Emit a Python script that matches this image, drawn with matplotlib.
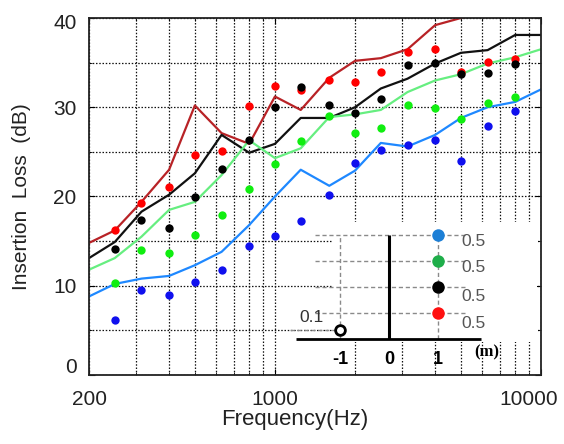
import matplotlib
matplotlib.use("Agg")
import matplotlib.pyplot as plt
import matplotlib.transforms as mtrans
from matplotlib.patches import Rectangle
from matplotlib.ticker import FixedLocator, NullFormatter

plt.rcParams['font.family'] = ['Liberation Sans', 'DejaVu Sans']

# --- DATA ---
FREQ_LINE = [200, 250, 315, 400, 500, 630, 800, 1000, 1250, 1600,
             2000, 2500, 3150, 4000, 5000, 6300, 8000, 10000]
LINE_RED = [14.8, 16.2, 19.4, 23.0, 30.2, 27.1, 25.9, 31.2, 29.7, 33.3,
            35.2, 35.5, 36.5, 39.2, 40.0, 40.8, 41.2, 41.5]
LINE_BLACK = [13.1, 14.9, 18.3, 20.2, 22.6, 26.9, 24.9, 25.9, 28.8, 28.8,
              30.0, 32.1, 33.2, 34.9, 36.1, 36.4, 38.1, 38.1]
LINE_GREEN = [11.8, 13.1, 15.5, 18.5, 19.4, 22.4, 26.3, 24.3, 25.4, 28.9,
              29.2, 29.7, 31.7, 33.0, 33.7, 34.9, 35.6, 36.5]
LINE_BLUE = [8.8, 10.2, 10.8, 11.1, 12.3, 13.8, 16.8, 20.0, 23.0, 21.2,
             22.9, 26.0, 25.6, 26.9, 28.8, 30.0, 30.6, 32.0]

FREQ_PTS = [250, 315, 400, 500, 630, 800, 1000, 1250, 1600, 2000,
            2500, 3150, 4000, 5000, 6300, 8000]
PTS_RED = [16.2, 19.3, 21.1, 24.6, 25.1, 30.1, 32.4, 31.9, 33.0, 32.8,
           34.0, 36.2, 36.5, 34.0, 35.1, 35.4]
PTS_BLACK = [14.1, 17.4, 16.5, 19.9, 23.1, 26.3, 30.0, 32.3, 30.3, 29.3,
             30.9, 34.7, 35.0, 33.7, 33.8, 34.8]
PTS_GREEN = [10.3, 14.0, 13.7, 15.7, 17.9, 20.8, 23.6, 26.2, 29.0, 27.1,
             27.7, 30.3, 29.9, 28.7, 30.5, 31.1]
PTS_BLUE = [6.2, 9.5, 9.0, 10.4, 11.8, 14.4, 15.6, 17.2, 20.2, 23.8,
            25.2, 25.8, 26.3, 24.0, 27.9, 29.6]

X_TICKS = [200, 1000, 10000]
X_LABELS = ['200', '1000', '10000']
Y_TICKS = [0, 10, 20, 30, 40]

# inset sketch: barrier geometry in metres
SRC_X, SRC_H = -1, 0.18
RCV_X = 1
RCV_H = [2.0, 1.5, 1.0, 0.5]
RCV_COLORS = ['#1c7fd6', '#1fae4a', '#000000', '#ff1010']
BARRIER_H = 2.0
SPACING_LABELS = ['0.5', '0.5', '0.5', '0.5']
SPACING_Y = [1.87, 1.37, 0.81, 0.29]

fig = plt.figure(figsize=(5.64, 4.44), dpi=100)
ax = fig.add_axes([89 / 564, 1 - 375 / 444, (541 - 89) / 564, (375 - 18) / 444])

# measured curves and points
ax.plot(FREQ_LINE, LINE_RED, color='#b82226', lw=1.6, zorder=2)
ax.plot(FREQ_LINE, LINE_BLACK, color='#111111', lw=1.6, zorder=2)
ax.plot(FREQ_LINE, LINE_GREEN, color='#66ee80', lw=1.6, zorder=2)
ax.plot(FREQ_LINE, LINE_BLUE, color='#1e88ff', lw=1.6, zorder=2)

for vals, c in [(PTS_RED, '#ff0000'), (PTS_BLACK, '#000000'),
                (PTS_GREEN, '#10ee10'), (PTS_BLUE, '#1010ee')]:
    ax.plot(FREQ_PTS, vals, 'o', color=c, ms=6, mec='none', zorder=3)

ax.set_xscale('log')
ax.set_xlim(200, 10000)
ax.set_ylim(0, 40)
ax.xaxis.set_major_locator(FixedLocator(X_TICKS))
ax.set_xticklabels(X_LABELS)
ax.xaxis.set_minor_locator(FixedLocator(
    [m * d for d in (100, 1000) for m in range(2, 10)]))
ax.xaxis.set_minor_formatter(NullFormatter())
ax.set_yticks(Y_TICKS)
ax.set_yticks([5, 15, 25, 35], minor=True)

ax.set_axisbelow(True)
ax.grid(True, which='both', color='#111111', linestyle=(0, (1.2, 1.4)), lw=0.9)
ax.tick_params(which='both', direction='in', top=True, right=True,
               labelsize=15, labelcolor='#222222')
ax.tick_params(axis='x', which='major', pad=11, length=4)
ax.tick_params(axis='y', which='major', pad=9, length=4)
for s in ax.spines.values():
    s.set_linewidth(1.3)
    s.set_color('#222222')

# nudge the edge tick labels inwards like the reference
def shift(label, dx, dy):
    label.set_transform(label.get_transform() +
                        mtrans.ScaledTranslation(dx / 100, dy / 100, fig.dpi_scale_trans))

shift(ax.xaxis.get_major_ticks()[-1].label1, -12, 0)
shift(ax.yaxis.get_major_ticks()[0].label1, 0, 10)
shift(ax.yaxis.get_major_ticks()[-1].label1, 0, -4)

ax.set_xlabel('Frequency(Hz)', fontsize=16, color='#222222')
ax.set_ylabel('Insertion  Loss  (dB)', fontsize=15, color='#222222')
ax.xaxis.set_label_coords(0.456, -0.095)
ax.yaxis.set_label_coords(-0.128, 0.50)

# white backing for the inset sketch
ax.add_patch(Rectangle((0.540, 0.092), 0.451, 0.336, transform=ax.transAxes,
                       facecolor='white', edgecolor='none', zorder=1))

# --- inset: source / barrier / receivers ---
ins = fig.add_axes([290 / 564, 1 - 376 / 444, (541 - 290) / 564, (376 - 222) / 444])
ins.set_xlim(-2.02, 3.10)
ins.set_ylim(-0.71, 2.25)
ins.axis('off')
ins.patch.set_alpha(0)

dash = dict(color='#8a8a8a', lw=1.0, linestyle=(0, (3, 2)))
for h in RCV_H:
    ins.plot([-1.51, 1.55], [h, h], **dash)
ins.plot([-2.02, SRC_X], [SRC_H, SRC_H], **dash)
ins.plot([SRC_X, SRC_X], [0, BARRIER_H], **dash)
ins.plot([RCV_X, RCV_X], [0, BARRIER_H], **dash)

ins.plot([-1.9, 1.88], [0, 0], color='k', lw=2.0, solid_capstyle='butt')
ins.plot([0, 0], [0, BARRIER_H], color='k', lw=2.2, solid_capstyle='butt')
ins.plot([SRC_X], [SRC_H], 'o', mfc='white', mec='k', mew=2, ms=7)
for h, c in zip(RCV_H, RCV_COLORS):
    ins.plot([RCV_X], [h], 'o', color=c, ms=9, mec='none')

for lab, y in zip(SPACING_LABELS, SPACING_Y):
    ins.text(1.73, y, lab, color='#555555', fontsize=12.5, ha='center', va='center')
ins.text(-1.58, 0.42, '0.1', color='#333333', fontsize=12.5, ha='center', va='center')
for xv, lab in [(-1, '-1'), (0, '0'), (1, '1')]:
    ins.text(xv, -0.40, lab, fontsize=13, fontweight='bold', ha='center', va='center')
ins.text(2.0, -0.25, '(m)', fontsize=12, fontweight='bold', family='Liberation Serif',
         ha='center', va='center')

fig.savefig('out.png', dpi=100)
